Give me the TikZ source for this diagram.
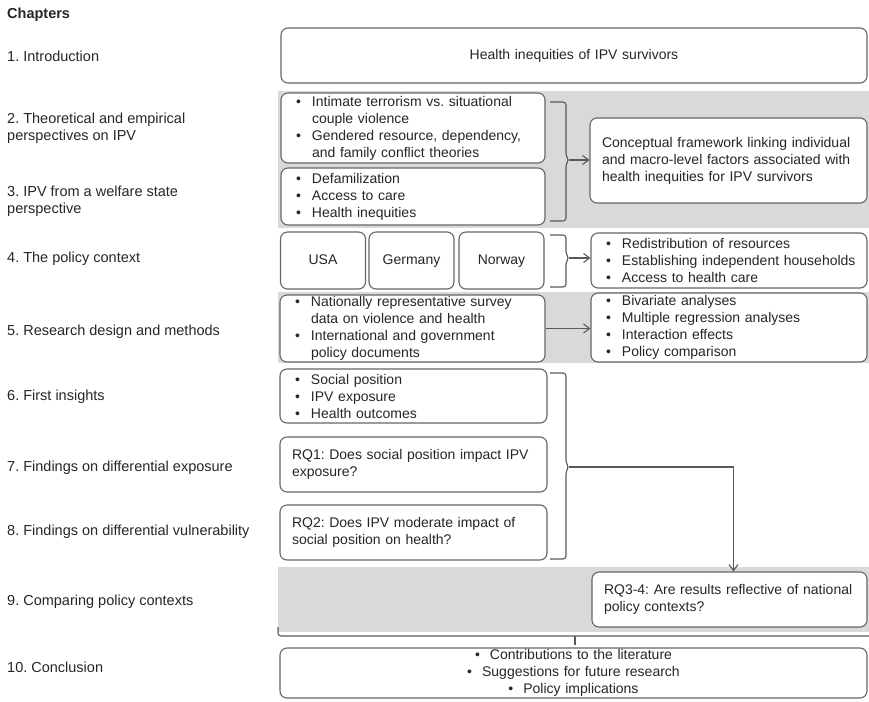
\documentclass[tikz,border=0pt]{standalone}
\usepackage{fontspec}
\setmainfont{Liberation Sans}
\usetikzlibrary{arrows.meta}
\frenchspacing

\newcommand{\bulline}[1]{\mbox{\makebox[19pt][l]{\hspace*{3pt}\textbullet}#1}}
\newcommand{\contline}[1]{\mbox{\hspace*{19pt}#1}}

\begin{document}
\begin{tikzpicture}[
    x=1pt, y=-1pt,
    font=\fontsize{14}{17}\selectfont, text=black!85,
    chapter/.style ={anchor=west, inner sep=0pt, align=left, font=\fontsize{14.5}{17.5}\selectfont},
    box/.style     ={draw=black!60, fill=white, line width=1.1pt, rounded corners=7pt,
                     inner xsep=12pt, inner ysep=0pt, align=left},
    ctrybox/.style ={draw=black!60, fill=white, line width=1.1pt, rounded corners=7pt,
                     minimum width=85pt, minimum height=57pt, text height=10pt, text depth=3pt},
    band/.style    ={fill=black!15},
    brk/.style     ={draw=black!65, line width=1.1pt, rounded corners=3pt},
    fl/.style      ={-{Straight Barb[length=6pt,width=9pt]}, draw=black!65, line width=1.1pt}
  ]

  \useasboundingbox (0,0) rectangle (869,701);

  % --- grey bands -----------------------------------------------------------
  \fill[band] (278,91) rectangle (869,228);
  \fill[band] (278,292) rectangle (869,363);
  \fill[band] (278,567) rectangle (869,632);

  % --- chapters -------------------------------------------------------------
  \node[chapter, font=\bfseries\fontsize{14.5}{17.5}\selectfont] (chap) at (7,15) {Chapters};
  \node[chapter] (c1)  at (7,56)  {1. Introduction};
  \node[chapter] (c2)  at (7,128) {2. Theoretical and empirical\\perspectives on IPV};
  \node[chapter] (c3)  at (7,201) {3. IPV from a welfare state\\perspective};
  \node[chapter] (c4)  at (7,259) {4. The policy context};
  \node[chapter] (c5)  at (7,332) {5. Research design and methods};
  \node[chapter] (c6)  at (7,397) {6. First insights};
  \node[chapter] (c7)  at (7,468) {7. Findings on differential exposure};
  \node[chapter] (c8)  at (7,532) {8. Findings on differential vulnerability};
  \node[chapter] (c9)  at (7,602) {9. Comparing policy contexts};
  \node[chapter] (c10) at (7,667) {10. Conclusion};

  % --- content boxes --------------------------------------------------------
  \node[box, align=center, text width=562pt, minimum height=55pt] (intro) at (574,55.5)
    {Health inequities of IPV survivors};

  \node[box, text width=240pt, minimum height=70pt] (theo) at (413,128)
    {\bulline{Intimate terrorism vs. situational}\\\contline{couple violence}\\
     \bulline{Gendered resource, dependency,}\\\contline{and family conflict theories}};
  \node[box, text width=240pt, minimum height=57pt] (welf) at (413,196.5)
    {\bulline{Defamilization}\\\bulline{Access to care}\\\bulline{Health inequities}};
  \node[box, text width=253pt, minimum height=85pt] (concept) at (728.5,160.5)
    {\mbox{Conceptual framework linking individual}\\
     \mbox{and macro-level factors associated with}\\
     \mbox{health inequities for IPV survivors}};

  \node[ctrybox] (usa) at (323,260.5)   {USA};
  \node[ctrybox] (ger) at (411.5,260.5) {Germany};
  \node[ctrybox] (nor) at (501.5,260.5) {Norway};
  \node[box, text width=252pt, minimum height=55pt] (policy) at (729,260.5)
    {\bulline{Redistribution of resources}\\\bulline{Establishing independent households}\\
     \bulline{Access to health care}};

  \node[box, text width=241pt, minimum height=67pt] (data) at (412.5,328.5)
    {\bulline{Nationally representative survey}\\\contline{data on violence and health}\\
     \bulline{International and government}\\\contline{policy documents}};
  \node[box, text width=252pt, minimum height=69pt] (analysis) at (729,327.5)
    {\bulline{Bivariate analyses}\\\bulline{Multiple regression analyses}\\
     \bulline{Interaction effects}\\\bulline{Policy comparison}};

  \node[box, text width=243pt, minimum height=54pt] (insight) at (413.5,396)
    {\bulline{Social position}\\\bulline{IPV exposure}\\\bulline{Health outcomes}};
  \node[box, text width=243pt, minimum height=55pt] (rq1) at (413.5,464.5)
    {\mbox{RQ1: Does social position impact IPV}\\exposure?};
  \node[box, text width=243pt, minimum height=55pt] (rq2) at (413.5,532.5)
    {RQ2: Does IPV moderate impact of\\social position on health?};
  \node[box, text width=251pt, minimum height=55pt] (rq34) at (729.5,599.5)
    {\mbox{RQ3-4: Are results reflective of national}\\policy contexts?};

  \node[box, align=center, text width=563pt, minimum height=50pt] (concl) at (573.5,673)
    {\textbullet\hspace{10pt}Contributions to the literature\\
     \textbullet\hspace{10pt}Suggestions for future research\\
     \textbullet\hspace{10pt}Policy implications};

  % --- brackets and arrows --------------------------------------------------
  \draw[brk] (550,102) -| (566,156) -- (569,160) -- (566,164) |- (550,221);
  \draw[brk] (550,235) -| (566,254) -- (569,258) -- (566,262) |- (550,287);
  \draw[brk] (550,373) -| (566,463) -- (569,467) -- (566,471) |- (550,559);
  \draw[brk] (278,627) |- (869,636);

  \coordinate (b1) at (569,160);
  \coordinate (b2) at (569,258);
  \coordinate (b3) at (569,467);
  \coordinate (bt) at (575,636);

  \draw[fl] (b1) -- (b1 -| concept.west);
  \draw[fl] (b2) -- (b2 -| policy.west);
  \draw[fl] (data.east) -- (data.east -| analysis.west);
  \draw[fl, rounded corners=0pt] (b3) -| ([xshift=4pt]rq34.north);
  \draw[brk] (bt) -- ++(0,9);

\end{tikzpicture}
\end{document}
